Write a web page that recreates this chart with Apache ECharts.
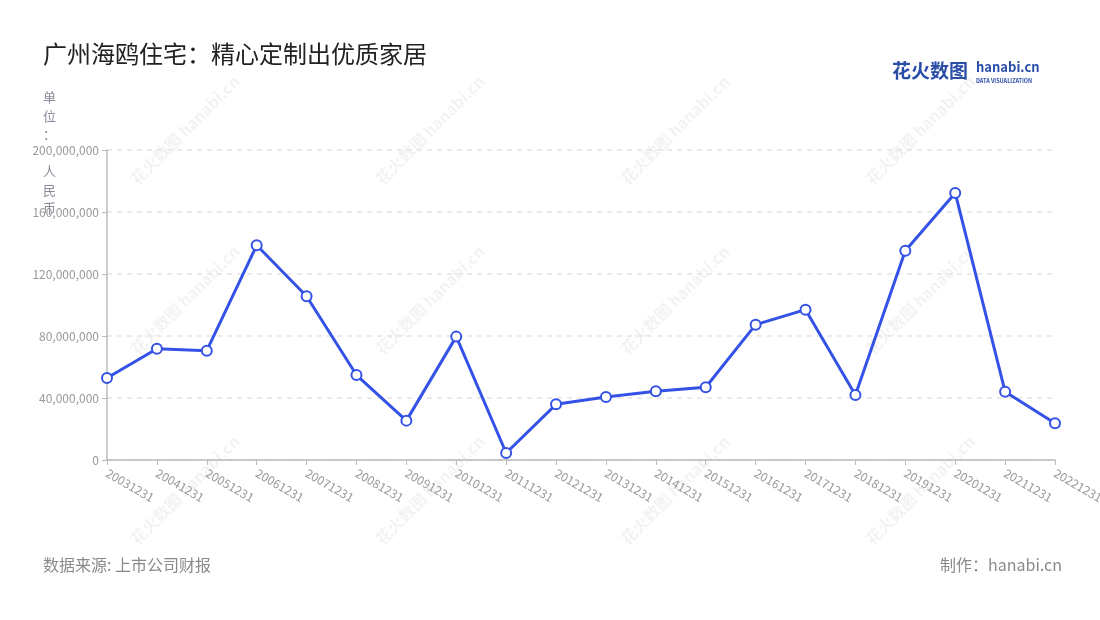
<!DOCTYPE html>
<html>
<head>
<meta charset="utf-8">
<script src="https://cdn.jsdelivr.net/npm/echarts@6/dist/echarts.min.js"></script>
<style>
  html, body { margin: 0; padding: 0; background: #fff; }
  #main { width: 1100px; height: 620px; }
</style>
</head>
<body>
<div id="main"></div>
<script>
// 年度数据（单位：人民币）
var years = ['20031231', '20041231', '20051231', '20061231', '20071231', '20081231', '20091231',
    '20101231', '20111231', '20121231', '20131231', '20141231', '20151231', '20161231',
    '20171231', '20181231', '20191231', '20201231', '20211231', '20221231'];
var values = [52900000, 71800000, 70500000, 138500000, 105600000, 54800000, 25400000,
    79600000, 4500000, 35900000, 40600000, 44300000, 46900000, 87300000,
    97000000, 41900000, 135000000, 172300000, 44100000, 23700000];
var yTicks = [0, 40000000, 80000000, 120000000, 160000000, 200000000];

var font = '"Noto Sans CJK SC", "Noto Sans", sans-serif';

// 水印
var marks = [];
var mx = [185, 430, 675, 920];
var my = [130, 300, 490];
my.forEach(function (y) {
    mx.forEach(function (x) {
        marks.push({
            type: 'text',
            x: x,
            y: y,
            rotation: Math.PI / 4,
            z: 0,
            style: {
                text: '花火数图 hanabi.cn',
                fill: 'rgba(0,0,0,0.05)',
                font: 'bold 16px ' + font,
                align: 'center',
                verticalAlign: 'middle'
            }
        });
    });
});

var myChart = echarts.init(document.getElementById('main'));
myChart.setOption({
    backgroundColor: '#fff',
    animation: false,
    title: {
        text: '广州海鸥住宅：精心定制出优质家居',
        left: 38,
        top: 37,
        textStyle: { fontFamily: font, fontSize: 24, fontWeight: 'normal', color: '#222' }
    },
    grid: { left: 107, right: 45, top: 150, bottom: 160, outerBoundsMode: 'none', containLabel: false },
    xAxis: {
        type: 'category',
        data: years,
        boundaryGap: false,
        axisLine: { lineStyle: { color: '#bbb', width: 1.5 } },
        axisTick: { alignWithLabel: true, lineStyle: { color: '#bbb' } },
        axisLabel: { rotate: -30, color: '#999', fontSize: 12, fontFamily: font, interval: 0, margin: 12 }
    },
    yAxis: {
        type: 'value',
        min: yTicks[0],
        max: yTicks[yTicks.length - 1],
        interval: 40000000,
        axisLine: { show: true, lineStyle: { color: '#bbb', width: 1.5 } },
        axisTick: { show: true, lineStyle: { color: '#bbb' } },
        axisLabel: {
            color: '#999', fontSize: 12, fontFamily: font,
            formatter: function (v) { return v.toLocaleString('en-US'); }
        },
        splitLine: { lineStyle: { type: [5, 5], color: '#e3e3e3', width: 1.5 } }
    },
    series: [{
        type: 'line',
        data: values,
        symbol: 'circle',
        symbolSize: 10,
        z: 5,
        lineStyle: { color: '#3452e6', width: 3 },
        itemStyle: { color: '#fff', borderColor: '#3452e6', borderWidth: 2 }
    }],
    graphic: marks.concat([
        {
            type: 'text', left: 43, top: 88, z: 10,
            style: {
                text: '单\n位\n：\n\n人\n民\n币',
                fill: '#8a8a9a', font: '13px ' + font, lineHeight: 18.5, align: 'center'
            }
        },
        {
            type: 'text', left: 892, top: 61, z: 10,
            style: { text: '花火数图', fill: '#2a4ea8', font: 'bold 19px ' + font }
        },
        {
            type: 'text', left: 976, top: 61, z: 10,
            style: { text: 'hanabi.cn', fill: '#2a4ea8', font: 'bold 13px ' + font }
        },
        {
            type: 'text', left: 976, top: 78, z: 10,
            style: { text: 'DATA VISUALIZATION', fill: '#2a4ea8', font: 'bold 5.5px ' + font }
        },
        {
            type: 'text', left: 43, top: 557, z: 10,
            style: { text: '数据来源: 上市公司财报', fill: '#8a8a8a', font: '16px ' + font }
        },
        {
            type: 'text', right: 38, top: 557, z: 10,
            style: { text: '制作：hanabi.cn', fill: '#8a8a8a', font: '16px ' + font }
        }
    ])
});
</script>
</body>
</html>
